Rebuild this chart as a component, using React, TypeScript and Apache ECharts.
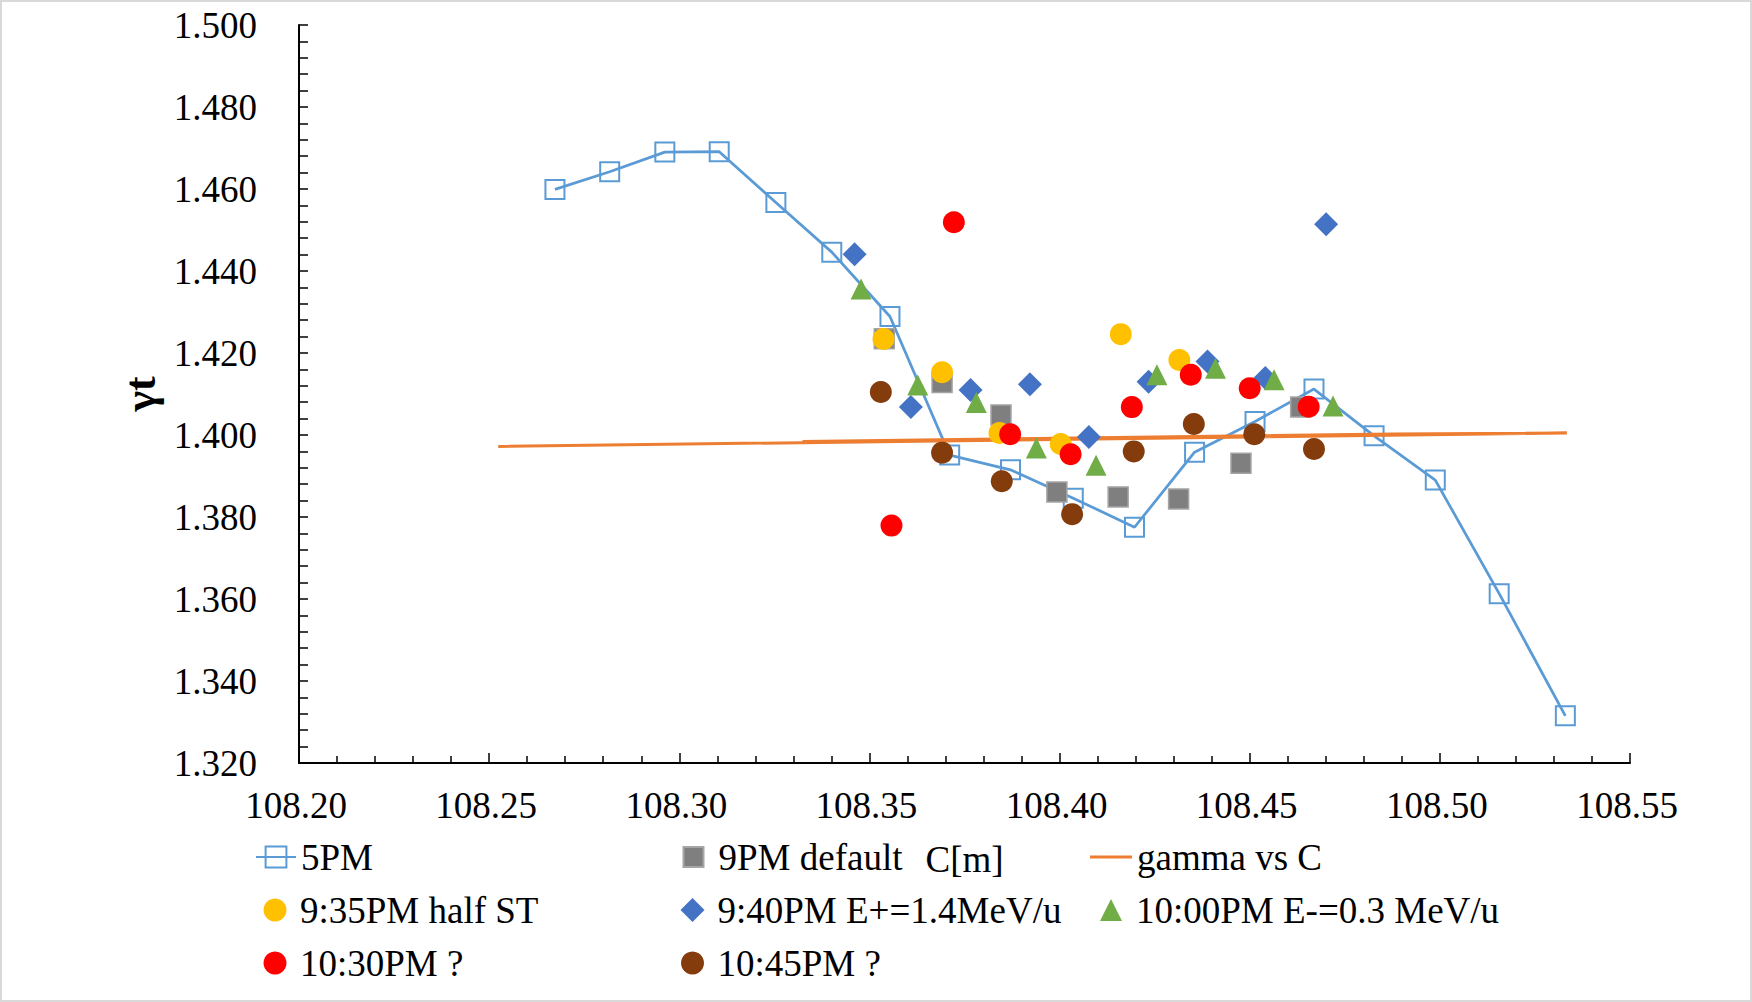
import React, { useEffect, useRef } from "react";
import * as echarts from "echarts";

// ---- data (C [m] vs gamma_t) ----
const pm5C = [108.2673, 108.2817, 108.2962, 108.3105, 108.3254, 108.3401, 108.3554, 108.3711, 108.3871, 108.4036, 108.4197, 108.4355, 108.4514, 108.4669, 108.4827, 108.4988, 108.5156, 108.533];
const pm5G = [1.4599, 1.4642, 1.469, 1.4691, 1.4567, 1.4446, 1.4289, 1.3951, 1.3915, 1.3846, 1.3775, 1.3958, 1.4033, 1.4112, 1.3998, 1.389, 1.3613, 1.3315];

const pm9C = [108.3539, 108.3691, 108.3846, 108.3993, 108.4154, 108.4313, 108.4477, 108.4634];
const pm9G = [1.4235, 1.4128, 1.4049, 1.3861, 1.3849, 1.3844, 1.3931, 1.4068];

const gammaC = [108.2524, 108.5334, 108.4876, 108.3324];
const gammaG = [1.3972, 1.4005, 1.40025, 1.3984];

const pm935C = [108.3537, 108.3691, 108.3842, 108.4003, 108.4161, 108.4315];
const pm935G = [1.4234, 1.4153, 1.4005, 1.3978, 1.4246, 1.4183];

const pm940C = [108.3461, 108.3609, 108.3766, 108.3922, 108.4077, 108.4234, 108.4389, 108.4541, 108.4701];
const pm940G = [1.4441, 1.4068, 1.411, 1.4124, 1.3995, 1.413, 1.4179, 1.4139, 1.4514];

const pm1000C = [108.3478, 108.3627, 108.3781, 108.3939, 108.4096, 108.4256, 108.441, 108.4564, 108.4719];
const pm1000G = [1.4356, 1.4122, 1.4079, 1.3968, 1.3926, 1.4147, 1.4163, 1.4135, 1.4071];

const pm1030C = [108.3558, 108.3722, 108.387, 108.4029, 108.419, 108.4345, 108.45, 108.4655];
const pm1030G = [1.3779, 1.4519, 1.4002, 1.3953, 1.4068, 1.4147, 1.4114, 1.4069];

const pm1045C = [108.353, 108.3691, 108.3848, 108.4033, 108.4195, 108.4353, 108.4512, 108.4669];
const pm1045G = [1.4105, 1.3957, 1.3887, 1.3807, 1.396, 1.4027, 1.4002, 1.3966];

const seriesNames = [
  "5PM",
  "9PM default",
  "gamma vs C",
  "9:35PM half ST",
  "9:40PM E+=1.4MeV/u",
  "10:00PM E-=0.3 MeV/u",
  "10:30PM ?",
  "10:45PM ?",
];

const X_MIN = 108.2;
const X_MAX = 108.55;
const X_STEP = 0.05;
const Y_MIN = 1.32;
const Y_MAX = 1.5;
const Y_STEP = 0.02;

const FONT = "'Liberation Serif', 'Times New Roman', serif";

const zip = (xs: number[], ys: number[]) => xs.map((x, i) => [x, ys[i]]);

export default function App() {
  const ref = useRef<HTMLDivElement>(null);

  useEffect(() => {
    document.body.style.margin = "0";
    if (!ref.current) return;
    const chart = echarts.init(ref.current, undefined, { renderer: "svg" });

    const FS = 37;
    const textStyle = { fontFamily: FONT, fontSize: FS, color: "#000" };

    const colCenters = [275, 692.5, 1111];
    const rowTops = [838.5, 891.5, 944.5];
    const TEXT_OFFSET = 25; // icon centre -> text start

    // [name, col, row, kind, size]
    const legendDefs: [string, number, number, string, number][] = [
      [seriesNames[0], 0, 0, "line", 40],
      [seriesNames[1], 1, 0, "sym", 20],
      [seriesNames[2], 2, 0, "bar", 42],
      [seriesNames[3], 0, 1, "sym", 23],
      [seriesNames[4], 1, 1, "sym", 24],
      [seriesNames[5], 2, 1, "sym", 22],
      [seriesNames[6], 0, 2, "sym", 23],
      [seriesNames[7], 1, 2, "sym", 23],
    ];

    const legends = legendDefs.map(([name, col, row, kind, size]) => {
      const c = colCenters[col];
      const base: any = {
        data: [name],
        top: rowTops[row],
        padding: 0,
        selectedMode: false,
      };
      if (kind === "line") {
        base.left = c - 20;
        base.itemWidth = 40;
        base.itemHeight = 26;
        base.textStyle = { ...textStyle, padding: [0, 0, 0, TEXT_OFFSET - 25] };
      } else if (kind === "bar") {
        base.left = c - 21;
        base.itemWidth = 42;
        base.itemHeight = 3;
        base.icon = "rect";
        base.textStyle = { ...textStyle, padding: [0, 0, 0, 0] };
      } else {
        base.left = c - size / 2;
        base.itemWidth = size;
        base.itemHeight = size;
        base.textStyle = { ...textStyle, padding: [0, 0, 0, TEXT_OFFSET - size / 2 - 5] };
      }
      return base;
    });

    const option: any = {
      animation: false,
      backgroundColor: "#fff",
      graphic: [
        {
          type: "rect",
          silent: true,
          shape: { x: 1, y: 1, width: 1750, height: 1000 },
          style: { fill: "none", stroke: "#d9d9d9", lineWidth: 2 },
        },
      ],
      grid: { left: 299, top: 25, width: 1331, height: 738, containLabel: false },
      legend: legends,
      xAxis: {
        type: "value",
        min: X_MIN,
        max: X_MAX,
        interval: X_STEP,
        name: "C[m]",
        nameLocation: "middle",
        nameGap: 78,
        nameTextStyle: textStyle,
        axisLine: { show: true, onZero: false, lineStyle: { color: "#000", width: 2 } },
        axisTick: { show: true, inside: true, length: 10, lineStyle: { color: "#000", width: 1.5 } },
        minorTick: { show: true, splitNumber: 5, length: 7, lineStyle: { color: "#000", width: 1.5 } },
        splitLine: { show: false },
        axisLabel: {
          ...textStyle,
          margin: 24,
          padding: [0, 6, 0, 0],
          showMinLabel: true,
          showMaxLabel: true,
          formatter: (v: number) => v.toFixed(2),
        },
      },
      yAxis: {
        type: "value",
        min: Y_MIN,
        max: Y_MAX,
        interval: Y_STEP,
        name: "γt",
        nameLocation: "middle",
        nameGap: 129,
        nameTextStyle: { ...textStyle, fontSize: 44, fontWeight: "bold" },
        axisLine: { show: true, onZero: false, lineStyle: { color: "#000", width: 2 } },
        axisTick: { show: true, inside: true, length: 9, lineStyle: { color: "#000", width: 1.5 } },
        minorTick: { show: true, splitNumber: 5, length: 9, lineStyle: { color: "#000", width: 1.5 } },
        splitLine: { show: false },
        axisLabel: {
          ...textStyle,
          margin: 42,
          formatter: (v: number) => v.toFixed(3),
        },
      },
      series: [
        {
          name: seriesNames[0],
          type: "line",
          data: zip(pm5C, pm5G),
          symbol: "rect",
          symbolSize: 19,
          lineStyle: { color: "#5B9BD5", width: 2.75 },
          itemStyle: { color: "rgba(255,255,255,0)", borderColor: "#5B9BD5", borderWidth: 2 },
          z: 2,
        },
        {
          name: seriesNames[1],
          type: "scatter",
          data: zip(pm9C, pm9G),
          symbol: "rect",
          symbolSize: 20,
          itemStyle: { color: "#7F7F7F", borderColor: "#A5A5A5", borderWidth: 1.5, opacity: 1 },
          z: 3,
        },
        {
          name: seriesNames[2],
          type: "line",
          data: zip(gammaC, gammaG),
          symbol: "none",
          lineStyle: { color: "#ED7D31", width: 3 },
          itemStyle: { color: "#ED7D31" },
          z: 4,
        },
        {
          name: seriesNames[3],
          type: "scatter",
          data: zip(pm935C, pm935G),
          symbol: "circle",
          symbolSize: 22,
          itemStyle: { color: "#FFC000", opacity: 1 },
          z: 5,
        },
        {
          name: seriesNames[4],
          type: "scatter",
          data: zip(pm940C, pm940G),
          symbol: "diamond",
          symbolSize: 24,
          itemStyle: { color: "#4472C4", opacity: 1 },
          z: 6,
        },
        {
          name: seriesNames[5],
          type: "scatter",
          data: zip(pm1000C, pm1000G),
          symbol: "triangle",
          symbolSize: 21,
          itemStyle: { color: "#70AD47", opacity: 1 },
          z: 7,
        },
        {
          name: seriesNames[6],
          type: "scatter",
          data: zip(pm1030C, pm1030G),
          symbol: "circle",
          symbolSize: 22,
          itemStyle: { color: "#FF0000", opacity: 1 },
          z: 8,
        },
        {
          name: seriesNames[7],
          type: "scatter",
          data: zip(pm1045C, pm1045G),
          symbol: "circle",
          symbolSize: 22,
          itemStyle: { color: "#843C0C", opacity: 1 },
          z: 9,
        },
      ],
    };

    chart.setOption(option);
    return () => chart.dispose();
  }, []);

  return <div ref={ref} style={{ width: 1752, height: 1002 }} />;
}
